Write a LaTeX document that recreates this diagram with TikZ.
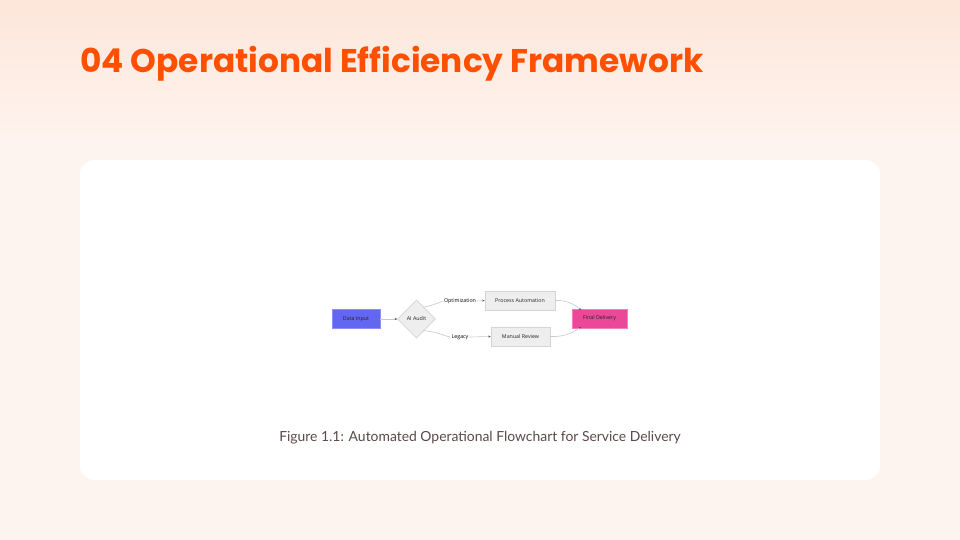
\documentclass[tikz,border=0pt]{standalone}
\usepackage{fontspec}
\setmainfont{Lato}
\newfontfamily\titlefont{Poppins}[UprightFont=* Bold]
\newfontfamily\diafont{Open Sans}
\usetikzlibrary{shapes.geometric,arrows.meta}
\definecolor{bgtop}{HTML}{FDE6DA}
\definecolor{bgbot}{HTML}{FEF4EF}
\definecolor{titlecol}{HTML}{FF4F00}
\definecolor{capcol}{HTML}{5A4A48}
\definecolor{indigo}{HTML}{6366F1}
\definecolor{indigoline}{HTML}{8E90F5}
\definecolor{pink}{HTML}{EC4899}
\definecolor{pinkline}{HTML}{F27DB8}
\definecolor{boxfill}{HTML}{EEEEEE}
\definecolor{boxline}{HTML}{D4D4D4}
\definecolor{edgecol}{HTML}{C8C8C8}
\definecolor{txtcol}{HTML}{222222}
\tikzset{
  dfont/.style={font=\diafont\fontsize{5.3}{6}\selectfont},
  box/.style={draw=boxline, fill=boxfill, line width=0.6pt, minimum height=19pt, inner sep=0pt, dfont, text=txtcol},
  dia/.style={diamond, draw=boxline, fill=boxfill, line width=0.6pt, minimum width=38pt, minimum height=38pt, inner sep=0pt, aspect=1, dfont, text=txtcol},
  lbl/.style={fill=white, inner sep=0.8pt, dfont, text=black},
  edge/.style={draw=edgecol, line width=0.6pt},
  arr/.style={edge, -{Stealth[length=2.4pt,width=2pt,color=txtcol!80]}},
}
\begin{document}
\begin{tikzpicture}[x=1pt,y=-1pt]
\useasboundingbox (0,0) rectangle (960,540);
\fill[bgbot] (0,0) rectangle (960,540);
\shade[top color=bgtop, bottom color=bgbot] (0,0) rectangle (960,150);
\fill[white, rounded corners=14pt] (80,160) rectangle (880,480);
\node[anchor=base west, inner sep=0pt, text=titlecol, font=\titlefont\fontsize{32.8}{36}\selectfont] (title) at (80,73) {04 Operational Efficiency Framework};
% nodes
\node[box, draw=indigoline, fill=indigo, minimum width=48pt] (din) at (356,319) {Data Input};
\node[dia] (aud) at (416.5,319) {AI Audit};
\node[box, minimum width=70pt] (pa) at (520,300.5) {Process Automation};
\node[box, minimum width=59pt] (mr) at (520.5,336.5) {Manual Review};
\node[box, draw=pinkline, fill=pink, minimum width=55pt] (fd) at (599.5,318.5) {Final Delivery};
\node[lbl] (lopt) at (460,301) {Optimization};
\node[lbl] (lleg) at (460,337) {Legacy};
\coordinate (fdtop) at (581,310);
\coordinate (fdbot) at (581,327);
% edges
\draw[arr] (din) -- (aud);
\path (aud.north east) ++(-3,-2) coordinate (a1);
\draw[edge] (a1) .. controls (438,304) and (442,301) .. (lopt.west);
\draw[arr] (lopt.east) -- (pa.west);
\path (aud.south east) ++(-3,2) coordinate (a2);
\draw[edge] (a2) .. controls (440,332) and (446,337) .. (lleg.west);
\draw[arr] (lleg.east) -- (mr.west);
\draw[arr] (pa.east) .. controls (566,300) and (574,304) .. (fdtop);
\draw[arr] (mr.east) .. controls (566,337) and (574,332) .. (fdbot);
\node[anchor=base, inner sep=0pt, text=capcol, font=\fontsize{13.9}{16}\selectfont] (cap) at (480,441.5) {Figure 1.1: Automated Operational Flowchart for Service Delivery};
\end{tikzpicture}
\end{document}
